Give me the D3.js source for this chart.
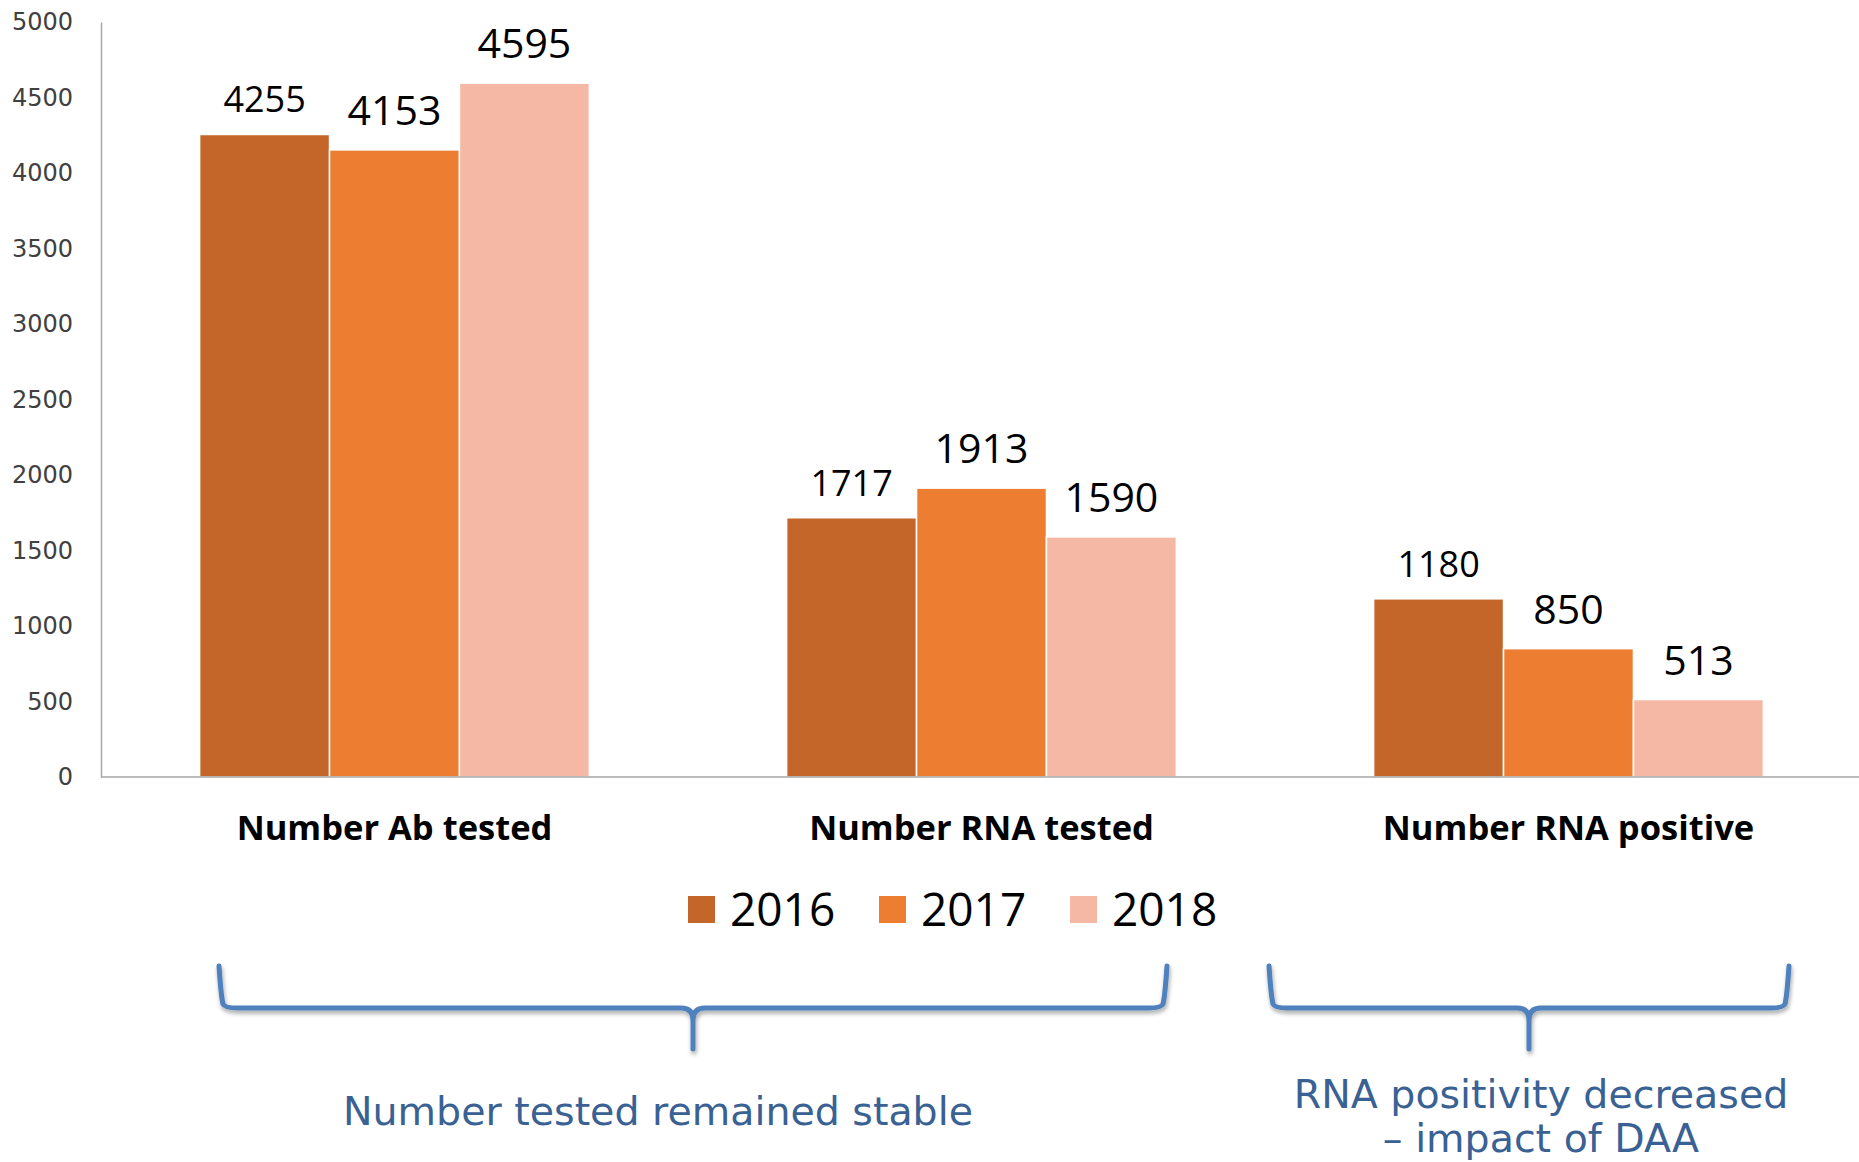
<!DOCTYPE html>
<html>
<head>
<meta charset="utf-8">
<script src="https://cdn.jsdelivr.net/npm/d3@7"></script>
<style>
  body { margin: 0; background: #fff; }
  svg { display: block; }
</style>
</head>
<body>
<div id="chart"></div>
<script>
// data
var categories = ["Number Ab tested", "Number RNA tested", "Number RNA positive"];
var years = ["2016", "2017", "2018"];
var values2016 = [4255, 1717, 1180];
var values2017 = [4153, 1913, 850];
var values2018 = [4595, 1590, 513];
var yTicks = [0, 500, 1000, 1500, 2000, 2500, 3000, 3500, 4000, 4500, 5000];
var braceLabels = [["Number tested remained stable"], ["RNA positivity decreased", "\u2013 impact of DAA"]];

var series = [values2016, values2017, values2018];
var colors = ["#C4662A", "#ED7D31", "#F4B8A4"];

var WIDTH = 1859, HEIGHT = 1162;
var LEFT = 101, RIGHT = 1862, TOP = 22, BOTTOM = 777;

var svg = d3.select("#chart").append("svg")
    .attr("width", WIDTH)
    .attr("height", HEIGHT);

var defs = svg.append("defs");
defs.append("filter").attr("id", "shadow")
    .attr("x", "-5%").attr("y", "-20%").attr("width", "110%").attr("height", "150%")
    .append("feDropShadow")
    .attr("dx", 1).attr("dy", 3).attr("stdDeviation", 2)
    .attr("flood-color", "#000").attr("flood-opacity", 0.35);

var x0 = d3.scaleBand()
    .domain(categories)
    .range([LEFT, RIGHT])
    .paddingInner(0.336)
    .paddingOuter(0.168);

var x1 = d3.scaleBand()
    .domain(years)
    .range([0, x0.bandwidth()]);

var y = d3.scaleLinear()
    .domain([0, 5000])
    .range([BOTTOM, TOP]);

// y axis
var yAxis = d3.axisLeft(y).tickValues(yTicks).tickFormat(d3.format("d")).tickSize(0).tickPadding(28);
var gy = svg.append("g")
    .attr("transform", "translate(" + LEFT + ",0)")
    .call(yAxis);
gy.select(".domain").attr("stroke", "#a6a6a6").attr("stroke-width", 1.5);
gy.selectAll("text")
    .attr("font-family", "DejaVu Sans")
    .attr("font-size", "24px")
    .attr("fill", "#404040");

// bars
var groups = svg.append("g").selectAll("g")
    .data(categories)
    .enter().append("g")
    .attr("transform", function (d) { return "translate(" + x0(d) + ",0)"; });

groups.selectAll("rect")
    .data(function (d, i) {
        return years.map(function (yr, j) { return { year: yr, value: series[j][i], k: j }; });
    })
    .enter().append("rect")
    .attr("x", function (d) { return x1(d.year); })
    .attr("y", function (d) { return y(d.value); })
    .attr("width", x1.bandwidth())
    .attr("height", function (d) { return BOTTOM - y(d.value); })
    .attr("fill", function (d) { return colors[d.k]; })
    .attr("stroke", "#fff")
    .attr("stroke-width", 1.5);

groups.selectAll("text")
    .data(function (d, i) {
        return years.map(function (yr, j) { return { year: yr, value: series[j][i], k: j }; });
    })
    .enter().append("text")
    .attr("x", function (d) { return x1(d.year) + x1.bandwidth() / 2; })
    .attr("y", function (d) { return y(d.value) - (d.k === 0 ? 22 : 25); })
    .attr("text-anchor", "middle")
    .attr("font-family", "Open Sans")
    .attr("font-size", function (d) { return d.k === 0 ? "36px" : "41px"; })
    .attr("fill", "#000")
    .text(function (d) { return d.value; });

// x baseline
svg.append("line")
    .attr("x1", LEFT).attr("x2", WIDTH)
    .attr("y1", BOTTOM).attr("y2", BOTTOM)
    .attr("stroke", "#a6a6a6")
    .attr("stroke-width", 1.5);

// category labels
svg.append("g").selectAll("text")
    .data(categories)
    .enter().append("text")
    .attr("x", function (d) { return x0(d) + x0.bandwidth() / 2; })
    .attr("y", 840)
    .attr("text-anchor", "middle")
    .attr("font-family", "Open Sans")
    .attr("font-weight", "bold")
    .attr("font-size", "34.5px")
    .attr("fill", "#000")
    .text(function (d) { return d; });

// legend
var legend = svg.append("g").attr("transform", "translate(688,0)");
var item = legend.selectAll("g")
    .data(years)
    .enter().append("g")
    .attr("transform", function (d, i) { return "translate(" + (i * 191) + ",0)"; });
item.append("rect")
    .attr("x", 0).attr("y", 896)
    .attr("width", 27).attr("height", 27)
    .attr("fill", function (d, i) { return colors[i]; });
item.append("text")
    .attr("x", 42).attr("y", 926)
    .attr("font-family", "Open Sans")
    .attr("font-size", "46px")
    .attr("fill", "#000")
    .text(function (d) { return d; });

// braces
function bracePath(xa, xb, top, mid, tip) {
    var cx = (xa + xb) / 2, r = 12;
    return "M" + xa + "," + top +
        " Q" + (xa + 2) + "," + (mid - r) + " " + (xa + 4) + "," + (mid - 4) +
        " Q" + (xa + 6) + "," + mid + " " + (xa + r + 6) + "," + mid +
        " L" + (cx - r) + "," + mid +
        " Q" + cx + "," + mid + " " + cx + "," + (mid + r) +
        " L" + cx + "," + tip +
        " M" + xb + "," + top +
        " Q" + (xb - 2) + "," + (mid - r) + " " + (xb - 4) + "," + (mid - 4) +
        " Q" + (xb - 6) + "," + mid + " " + (xb - r - 6) + "," + mid +
        " L" + (cx + r) + "," + mid +
        " Q" + cx + "," + mid + " " + cx + "," + (mid + r);
}

var braces = [
    { x0: 219, x1: 1167, tx: 658, ty: 1125 },
    { x0: 1269, x1: 1789, tx: 1541, ty: 1108 }
];

svg.append("g").selectAll("path")
    .data(braces)
    .enter().append("path")
    .attr("d", function (d) { return bracePath(d.x0, d.x1, 966, 1008, 1049); })
    .attr("fill", "none")
    .attr("stroke", "#4F81BD")
    .attr("stroke-width", 5)
    .attr("stroke-linecap", "round")
    .attr("filter", "url(#shadow)");

var notes = svg.append("g").selectAll("text")
    .data(braces)
    .enter().append("text")
    .attr("text-anchor", "middle")
    .attr("font-family", "DejaVu Sans")
    .attr("font-size", "39.5px")
    .attr("fill", "#3A6194");

notes.each(function (d, i) {
    var t = d3.select(this);
    braceLabels[i].forEach(function (line, j) {
        t.append("tspan")
            .attr("x", d.tx)
            .attr("y", d.ty + j * 44)
            .text(line);
    });
});
</script>
</body>
</html>
